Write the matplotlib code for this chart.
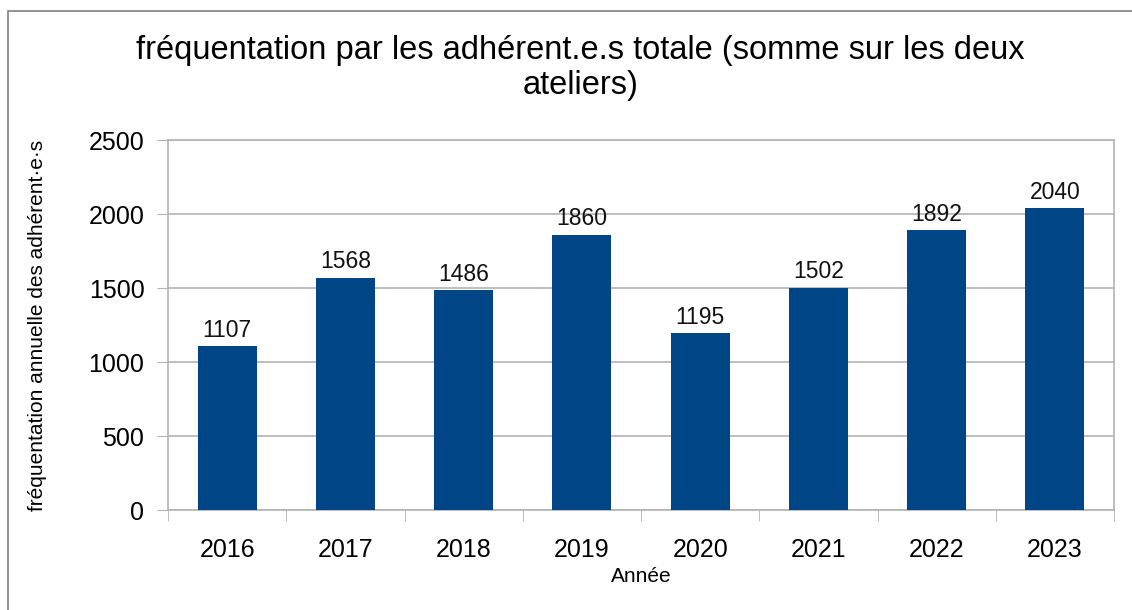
import matplotlib.pyplot as plt
from matplotlib.patches import Rectangle

annees = ['2016', '2017', '2018', '2019', '2020', '2021', '2022', '2023']
frequentation = [1107, 1568, 1486, 1860, 1195, 1502, 1892, 2040]

plt.rcParams['font.family'] = ['Liberation Sans', 'DejaVu Sans']

fig = plt.figure(figsize=(11.32, 6.10), dpi=100)
# cadre extérieur (haut et gauche visibles seulement)
fig.patches.append(Rectangle((8/1132, -0.1), 1.2, 1 - 11/610 + 0.1,
                             transform=fig.transFigure, fill=False,
                             edgecolor='#7f7f7f', linewidth=1.2))

ax = fig.add_axes([168/1132, 1 - 510/610, (1114 - 168)/1132, (510 - 140)/610])

x = range(len(annees))
bars = ax.bar(x, frequentation, width=0.5, color='#004586', zorder=3)
for xi, v in zip(x, frequentation):
    ax.text(xi, v + 30, str(v), ha='center', va='bottom', fontsize=16.5, color='#111111')

ax.set_xlim(-0.5, len(annees) - 0.5)
ax.set_ylim(0, 2500)
ax.set_yticks([0, 500, 1000, 1500, 2000, 2500])
ax.set_xticks(x)
ax.set_xticklabels(annees)
ax.set_xticks([i - 0.5 for i in range(len(annees) + 1)], minor=True)
ax.tick_params(axis='x', which='major', length=0, labelsize=18, pad=20)
ax.tick_params(axis='x', which='minor', length=8, color='#b3b3b3')
ax.tick_params(axis='y', length=8, color='#b3b3b3', labelsize=18, pad=9)
ax.grid(axis='y', color='#b3b3b3', linewidth=1.2, zorder=0)
for s in ax.spines.values():
    s.set_color('#b3b3b3')
    s.set_linewidth(1.2)

ax.set_xlabel('Année', fontsize=15, labelpad=4)
ax.set_ylabel('fréquentation annuelle des adhérent·e·s', fontsize=15, labelpad=30)
fig.text(0.513, 1 - 68/610, 'fréquentation par les adhérent.e.s totale (somme sur les deux\nateliers)',
         ha='center', va='center', fontsize=23.5, linespacing=1.15)

fig.savefig('out.png', dpi=100)
